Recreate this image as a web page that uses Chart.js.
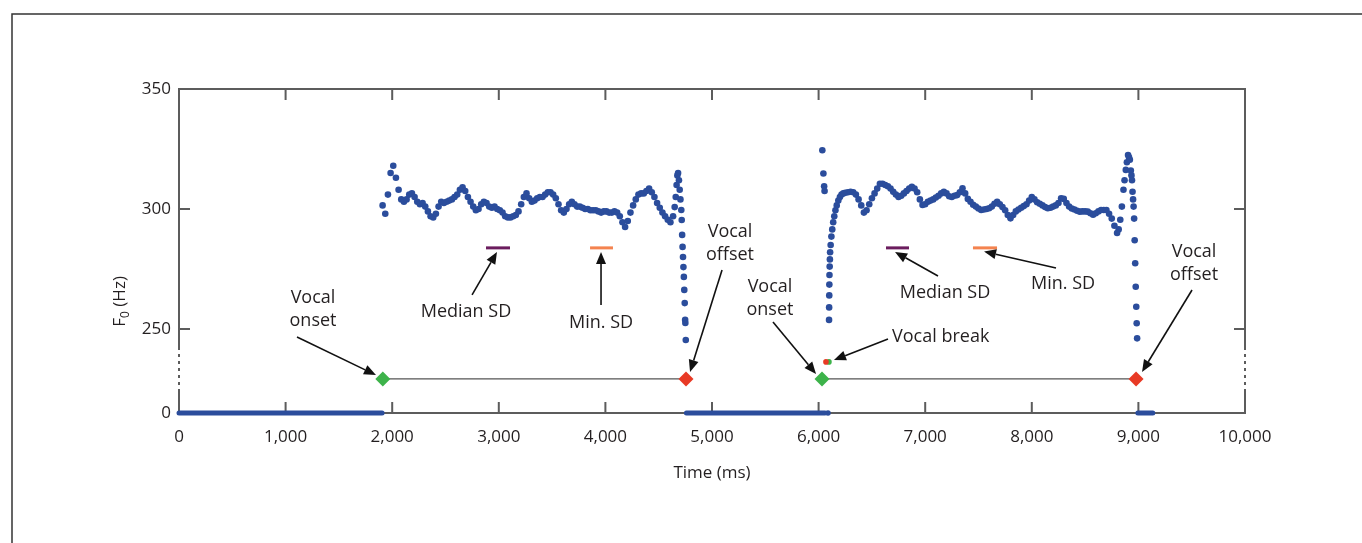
<!DOCTYPE html>
<html>
<head>
<meta charset="utf-8">
<script src="https://cdn.jsdelivr.net/npm/chart.js@4.4.1/dist/chart.umd.min.js"></script>
<style>
  html, body { margin: 0; padding: 0; background: #fff; }
  #wrap { position: relative; width: 1362px; height: 543px; }
</style>
</head>
<body>
<div id="wrap"><canvas id="f0Chart" width="1362" height="543"></canvas></div>
<script>
const FONT = '"Open Sans", "Noto Sans", sans-serif';

// axes: time in ms, F0 in Hz with a broken axis (0 Hz is drawn below the break)
const xTicks = [0, 1000, 2000, 3000, 4000, 5000, 6000, 7000, 8000, 9000, 10000];
const zeroLevel = 215;
const yTicks = [zeroLevel, 250, 300, 350];
const axisBreak = [224.6, 242.5];
const markerLevel = 229.2;   // row of onset / offset diamonds
const breakLevel = 236.3;    // vocal break marks
const sdLevel = 283.8;       // median / min SD windows

// unvoiced frames (F0 = 0)
const unvoicedStart = [0, 4760, 8995];
const unvoicedEnd = [1905, 6060, 9135];
const unvoicedDot = [6088];

// first phonation, 25 ms frames
const contour1Start = 1910;
const contourStep = 25;
const contour1F0 = [
  301.5, 298, 306, 315, 318, 313, 308, 304, 303, 304,
  306, 306.5, 305, 303, 302, 302.5, 301, 299, 297, 296.5,
  298, 301, 303, 302.5, 303, 303.5, 304, 305, 306, 308,
  309, 307.5, 305, 303, 301, 299.5, 300, 302, 303, 302.5,
  301, 300.5, 301, 300, 299.5, 298.5, 297, 296.5, 296.5, 297,
  297.5, 299, 302, 305, 306.5, 304.5, 303, 303.5, 304.5, 305,
  305, 306, 307, 307, 306, 304.5, 302, 299.5, 298.5, 300,
  302, 303, 302, 301, 301, 300.5, 300, 300, 299.5, 299.5,
  299.5, 299, 298.5, 299, 299, 298.5, 298.5, 299, 298.5, 297,
  294.5, 292.5, 295, 298.5, 301.5, 304, 306, 306.5, 306.5, 307.5,
  308.5, 307, 305, 302.5, 300.5, 298.5, 297, 295.5, 294.5, 297
];
const offset1Time = [4650, 4660, 4668, 4675, 4682, 4690, 4697, 4704, 4712, 4716,
  4720, 4724, 4728, 4732, 4736, 4740, 4744, 4748, 4750, 4754];
const offset1F0 = [300.8, 305, 310, 314, 315, 312, 308, 304, 299.6, 295.4,
  289.2, 284.2, 280, 275.8, 271.7, 266.3, 260.8, 253.8, 252.5, 245.4];

// second phonation
const onset2Time = [6035, 6045, 6052, 6056, 6098, 6099, 6100, 6101, 6102, 6104,
  6106, 6108, 6113, 6120, 6128, 6137, 6147, 6158, 6170, 6185, 6200, 6215, 6232];
const onset2F0 = [324.5, 314.8, 309.5, 307.5, 253.8, 259, 264, 268.5, 272.5, 276,
  279, 282, 285, 288.5, 291.5, 294.5, 297, 299.5, 301.5, 303.5, 305, 306, 306.5];
const contour2Start = 6250;
const contour2F0 = [
  306.8, 307, 307.2, 307, 306, 304, 301.5, 298.5, 299.5, 302,
  304.5, 306.5, 308.5, 310.5, 310.5, 310, 309.5, 308.5, 307.2, 306,
  305, 305.5, 306.5, 307.5, 308.5, 309.3, 308.5, 307, 304, 301.7,
  302, 303, 303.5, 304, 304.8, 305.5, 306.5, 307.2, 306.5, 305.3,
  305, 305.5, 305.8, 307, 308.6, 306.5, 304.2, 303, 301.8, 301,
  300.2, 299.6, 299.8, 300, 300.3, 301, 302.2, 303, 302, 300.8,
  299.5, 297.5, 296.1, 297.5, 299, 299.8, 300.5, 301.2, 302, 303.5,
  305, 304, 302.8, 302.2, 301.5, 300.8, 300.3, 300.5, 301, 301.5,
  302.5, 304.5, 304.2, 302.5, 301, 300.2, 299.8, 299.3, 298.9, 299,
  299, 298.9, 298.2, 297.6, 298.2, 299, 299.6, 299.6, 299.6, 298,
  296, 293, 290
];
const offset2Time = [8815, 8830, 8845, 8860, 8870, 8882, 8892, 8903, 8912, 8920,
  8929, 8935, 8940, 8945, 8950, 8955, 8960, 8965, 8970, 8975, 8980, 8984, 8988];
const offset2F0 = [291.5, 295.5, 301, 308, 312, 316.3, 319.5, 322.5, 321.5, 320.5,
  316, 314, 312, 307.2, 304, 301, 296, 287, 277.4, 267.6, 259.3, 252.4, 246.1];

// events
const onsetTimes = [1912, 6032];
const offsetTimes = [4756, 8978];
const breakRedTime = 6069;
const breakGreenTime = 6097;
const medianSdWindows = [[2880, 3105], [6632, 6848]];
const minSdWindows = [[3856, 4071], [7448, 7674]];

// callouts (anchor in data units)
const notes = [
  { lines: ['Vocal', 'onset'], t: 1257, v: 262.9, align: 'center' },
  { lines: ['Median SD'], t: 2692, v: 257.1, align: 'center' },
  { lines: ['Min. SD'], t: 3959, v: 252.5, align: 'center' },
  { lines: ['Vocal', 'offset'], t: 5169, v: 290.4, align: 'center' },
  { lines: ['Vocal', 'onset'], t: 5544, v: 267.5, align: 'center' },
  { lines: ['Vocal break'], t: 6689, v: 246.7, align: 'left' },
  { lines: ['Median SD'], t: 7186, v: 265, align: 'center' },
  { lines: ['Min. SD'], t: 8293, v: 268.75, align: 'center' },
  { lines: ['Vocal', 'offset'], t: 9522, v: 282.1, align: 'center' }
];
const arrows = [
  [[1107, 246.7], [1848, 230.8]],
  [[2749, 264.2], [2983, 282.1]],
  [[3959, 260], [3959, 282.1]],
  [[5094, 274.6], [4794, 232.1]],
  [[5572, 252.9], [5976, 231.25]],
  [[6651, 245.8], [6144, 237.1]],
  [[7120, 272.1], [6717, 282.1]],
  [[8227, 275.4], [7552, 282.3]],
  [[9503, 266.25], [9034, 232.1]]
];

const BLUE = '#2b4d9c';
const GREEN = '#3db34a';
const RED = '#e83a25';

const pairs = (times, vals) => times.map((t, i) => ({ x: t, y: vals[i] }));
const frames = (start, vals) => vals.map((v, i) => ({ x: start + i * contourStep, y: v }));

const datasets = [];

// diamonds on top
datasets.push({
  type: 'scatter',
  data: onsetTimes.map(t => ({ x: t, y: markerLevel })),
  pointStyle: 'rectRot', pointRadius: 7.5,
  backgroundColor: GREEN, borderColor: GREEN, borderWidth: 0
});
datasets.push({
  type: 'scatter',
  data: offsetTimes.map(t => ({ x: t, y: markerLevel })),
  pointStyle: 'rectRot', pointRadius: 7.5,
  backgroundColor: RED, borderColor: RED, borderWidth: 0
});
datasets.push({
  type: 'scatter',
  data: [{ x: breakRedTime, y: breakLevel }],
  pointRadius: 2.8, backgroundColor: RED, borderWidth: 0
});
datasets.push({
  type: 'scatter',
  data: [{ x: breakGreenTime, y: breakLevel }],
  pointRadius: 2.8, backgroundColor: GREEN, borderWidth: 0
});

// F0 contour
[
  frames(contour1Start, contour1F0),
  pairs(offset1Time, offset1F0),
  pairs(onset2Time, onset2F0),
  frames(contour2Start, contour2F0),
  pairs(offset2Time, offset2F0)
].forEach(d => {
  datasets.push({
    type: 'scatter', data: d,
    pointRadius: 3.3, backgroundColor: BLUE, borderWidth: 0
  });
});

// unvoiced frames
unvoicedStart.forEach((s, i) => {
  datasets.push({
    type: 'line',
    data: [{ x: s, y: zeroLevel }, { x: unvoicedEnd[i], y: zeroLevel }],
    borderColor: BLUE, borderWidth: 5, borderCapStyle: 'round',
    pointRadius: 0, fill: false
  });
});
datasets.push({
  type: 'scatter',
  data: unvoicedDot.map(t => ({ x: t, y: zeroLevel })),
  pointRadius: 2.8, backgroundColor: BLUE, borderWidth: 0
});

// SD windows
medianSdWindows.forEach(w => {
  datasets.push({
    type: 'line', data: [{ x: w[0], y: sdLevel }, { x: w[1], y: sdLevel }],
    borderColor: '#6b1d5e', borderWidth: 3, pointRadius: 0
  });
});
minSdWindows.forEach(w => {
  datasets.push({
    type: 'line', data: [{ x: w[0], y: sdLevel }, { x: w[1], y: sdLevel }],
    borderColor: '#f4834f', borderWidth: 3, pointRadius: 0
  });
});

// onset-offset spans
onsetTimes.forEach((t, i) => {
  datasets.push({
    type: 'line', data: [{ x: t, y: markerLevel }, { x: offsetTimes[i], y: markerLevel }],
    borderColor: '#555', borderWidth: 1.2, pointRadius: 0
  });
});

datasets.forEach(d => { d.clip = false; });

const decor = {
  id: 'decor',
  beforeDatasetsDraw(chart) {
    const { ctx, chartArea: a, scales: { x, y } } = chart;
    ctx.save();
    // outer figure frame
    ctx.strokeStyle = '#333';
    ctx.lineWidth = 1.5;
    ctx.beginPath();
    ctx.moveTo(12, chart.height);
    ctx.lineTo(12, 14);
    ctx.lineTo(chart.width, 14);
    ctx.stroke();

    // plot box
    ctx.strokeStyle = '#5c5c5c';
    ctx.lineWidth = 2;
    ctx.beginPath();
    ctx.moveTo(a.left - 1, a.top);
    ctx.lineTo(a.right + 1, a.top);
    ctx.moveTo(a.left - 1, a.bottom);
    ctx.lineTo(a.right + 1, a.bottom);
    ctx.stroke();
    const b0 = y.getPixelForValue(axisBreak[1]);
    const b1 = y.getPixelForValue(axisBreak[0]);
    [a.left, a.right].forEach(px => {
      ctx.setLineDash([]);
      ctx.beginPath();
      ctx.moveTo(px, a.top);
      ctx.lineTo(px, b0);
      ctx.moveTo(px, b1);
      ctx.lineTo(px, a.bottom);
      ctx.stroke();
      ctx.setLineDash([3, 4]);
      ctx.beginPath();
      ctx.moveTo(px, b0);
      ctx.lineTo(px, b1);
      ctx.stroke();
    });
    ctx.setLineDash([]);

    // inward ticks
    const tl = 11;
    ctx.beginPath();
    xTicks.slice(1, -1).forEach(t => {
      const px = x.getPixelForValue(t);
      ctx.moveTo(px, a.top);
      ctx.lineTo(px, a.top + tl);
      ctx.moveTo(px, a.bottom);
      ctx.lineTo(px, a.bottom - tl);
    });
    yTicks.slice(1, -1).forEach(v => {
      const py = y.getPixelForValue(v);
      ctx.moveTo(a.left, py);
      ctx.lineTo(a.left + tl, py);
      ctx.moveTo(a.right, py);
      ctx.lineTo(a.right - tl, py);
    });
    ctx.stroke();
    ctx.restore();
  },
  afterDatasetsDraw(chart) {
    const { ctx, chartArea: a, scales: { x, y } } = chart;
    ctx.save();

    // arrows
    ctx.strokeStyle = '#111';
    ctx.fillStyle = '#111';
    ctx.lineWidth = 1.6;
    arrows.forEach(([from, to]) => {
      const x0 = x.getPixelForValue(from[0]), y0 = y.getPixelForValue(from[1]);
      const x1 = x.getPixelForValue(to[0]), y1 = y.getPixelForValue(to[1]);
      const ang = Math.atan2(y1 - y0, x1 - x0);
      const hl = 12, hw = 5;
      const bx = x1 - hl * Math.cos(ang), by = y1 - hl * Math.sin(ang);
      ctx.beginPath();
      ctx.moveTo(x0, y0);
      ctx.lineTo(bx, by);
      ctx.stroke();
      ctx.beginPath();
      ctx.moveTo(x1, y1);
      ctx.lineTo(bx + hw * Math.sin(ang), by - hw * Math.cos(ang));
      ctx.lineTo(bx - hw * Math.sin(ang), by + hw * Math.cos(ang));
      ctx.closePath();
      ctx.fill();
    });

    // callout text
    ctx.fillStyle = '#231f20';
    ctx.font = '18px ' + FONT;
    ctx.textBaseline = 'middle';
    notes.forEach(n => {
      const px = x.getPixelForValue(n.t), py = y.getPixelForValue(n.v);
      ctx.textAlign = n.align;
      n.lines.forEach((line, i) => ctx.fillText(line, px, py + i * 23));
    });

    // y title with subscript
    ctx.save();
    ctx.translate(a.left - 60, y.getPixelForValue(261.5));
    ctx.rotate(-Math.PI / 2);
    const big = '17px ' + FONT, small = '12px ' + FONT;
    ctx.font = big;
    const wF = ctx.measureText('F').width;
    const wRest = ctx.measureText(' (Hz)').width;
    ctx.font = small;
    const w0 = ctx.measureText('0').width;
    let cx = -(wF + w0 + wRest) / 2;
    ctx.textAlign = 'left';
    ctx.textBaseline = 'alphabetic';
    ctx.font = big;
    ctx.fillText('F', cx, 6);
    cx += wF;
    ctx.font = small;
    ctx.fillText('0', cx, 10);
    cx += w0;
    ctx.font = big;
    ctx.fillText(' (Hz)', cx, 6);
    ctx.restore();

    ctx.restore();
  }
};

new Chart(document.getElementById('f0Chart'), {
  data: { datasets },
  options: {
    responsive: false,
    animation: false,
    events: [],
    layout: { padding: { top: 89, right: 117, left: 0, bottom: 0 } },
    plugins: { legend: { display: false }, tooltip: { enabled: false } },
    scales: {
      x: {
        type: 'linear',
        min: 0,
        max: 10000,
        afterBuildTicks: s => { s.ticks = xTicks.map(v => ({ value: v })); },
        afterFit: s => { s.height = 130; },
        grid: { display: false, drawTicks: false },
        border: { display: false },
        ticks: {
          padding: 14,
          color: '#231f20',
          font: { family: FONT, size: 17 },
          maxRotation: 0,
          callback: v => v.toLocaleString('en-US')
        },
        title: {
          display: true,
          text: 'Time (ms)',
          color: '#231f20',
          font: { family: FONT, size: 17 },
          padding: { top: 0, bottom: 60 }
        }
      },
      y: {
        type: 'linear',
        min: zeroLevel,
        max: 350,
        afterBuildTicks: s => { s.ticks = yTicks.map(v => ({ value: v })); },
        afterFit: s => { s.width = 179; },
        grid: { display: false, drawTicks: false },
        border: { display: false },
        ticks: {
          padding: 8,
          color: '#231f20',
          font: { family: FONT, size: 17 },
          callback: v => (v === zeroLevel ? '0' : String(v))
        }
      }
    }
  },
  plugins: [decor]
});
</script>
</body>
</html>
